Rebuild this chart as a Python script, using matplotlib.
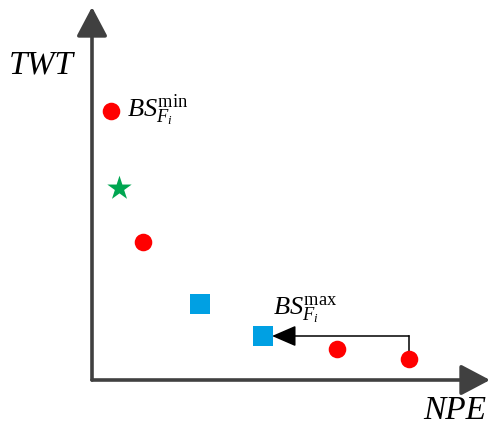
import matplotlib
matplotlib.use("Agg")
import matplotlib.pyplot as plt

plt.rcParams['mathtext.fontset'] = 'custom'
plt.rcParams['mathtext.rm'] = 'Liberation Serif'
plt.rcParams['mathtext.it'] = 'Liberation Serif:italic'
plt.rcParams['font.family'] = ['Liberation Serif', 'DejaVu Serif']

# data (NPE, TWT) in arbitrary units
red_npe = [19, 51, 245, 317]
red_twt = [269, 138, 31, 21]
star_npe = [27]
star_twt = [192]
blue_npe = [108, 171]
blue_twt = [76, 44]
arrow_from = (317, 21)
arrow_to = (171, 44)
label_min = r'$BS_{F_i}^{\mathrm{min}}$'
label_max = r'$BS_{F_i}^{\mathrm{max}}$'

fig = plt.figure(figsize=(4.9, 4.27), dpi=100)
ax = fig.add_axes([0, 0, 1, 1])
ax.set_xlim(-92, 398)
ax.set_ylim(-46, 381)
ax.axis('off')

axc = '#404040'
# axes arrows
ax.annotate('', xy=(398, 0), xytext=(0, 0),
            arrowprops=dict(arrowstyle='-|>,head_length=1.8,head_width=0.95',
                            color=axc, lw=2.6, shrinkA=0, shrinkB=0))
ax.annotate('', xy=(0, 373), xytext=(0, 0),
            arrowprops=dict(arrowstyle='-|>,head_length=1.8,head_width=0.95',
                            color=axc, lw=2.6, shrinkA=0, shrinkB=0))

ax.scatter(red_npe, red_twt, s=160, c='#FF0000', marker='o', zorder=3, linewidths=0)
ax.scatter(star_npe, star_twt, s=340, c='#00A651', marker='*', zorder=3, linewidths=0)
ax.scatter(blue_npe, blue_twt, s=200, c='#00A0E3', marker='s', zorder=3, linewidths=0)

# elbow arrow from last red point to the second blue square
ax.plot([arrow_from[0], arrow_from[0]], [arrow_from[1], arrow_to[1]], color='black', lw=1.1, zorder=2)
ax.annotate('', xy=(arrow_to[0] + 9, arrow_to[1]), xytext=(arrow_from[0], arrow_to[1]),
            arrowprops=dict(arrowstyle='-|>,head_length=1.5,head_width=0.65',
                            color='black', lw=1.1, shrinkA=0, shrinkB=0), zorder=2)

ax.text(35, 271, label_min, fontsize=19, va='center', ha='left')
ax.text(181, 71, label_max, fontsize=19, va='center', ha='left')

ax.text(-51, 316, 'TWT', fontsize=24, style='italic', ha='center', va='center')
ax.text(363, -30, 'NPE', fontsize=24, style='italic', ha='center', va='center')

fig.savefig('out.png', dpi=100)
